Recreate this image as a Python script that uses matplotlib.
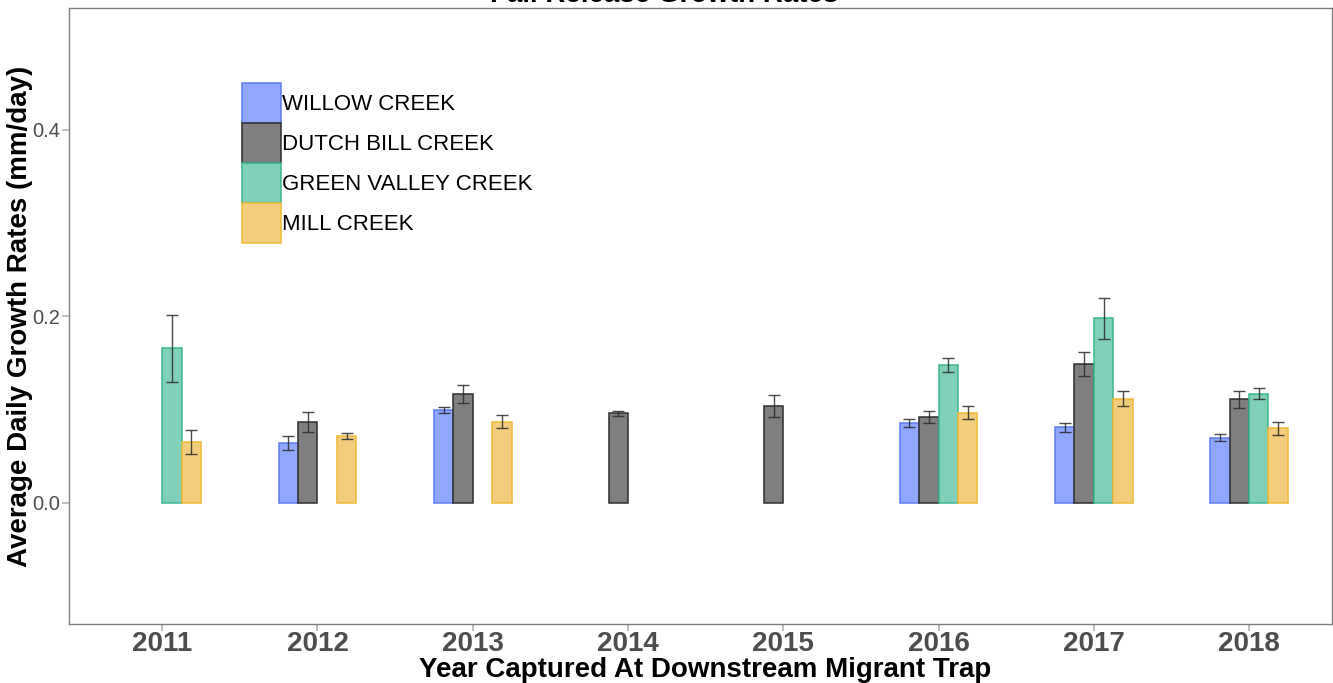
import matplotlib
matplotlib.use("Agg")
import matplotlib.pyplot as plt
import numpy as np

plt.rcParams['font.family'] = ['Liberation Sans', 'DejaVu Sans']

years = ["2011", "2012", "2013", "2014", "2015", "2016", "2017", "2018"]
creeks = ["WILLOW CREEK", "DUTCH BILL CREEK", "GREEN VALLEY CREEK", "MILL CREEK"]

# mean growth rates (mm/day); NaN = no data
willow = [np.nan, 0.064, 0.100, np.nan, np.nan, 0.086, 0.081, 0.070]
dutch  = [np.nan, 0.087, 0.117, 0.096, 0.104, 0.092, 0.149, 0.111]
green  = [0.166, np.nan, np.nan, np.nan, np.nan, 0.148, 0.198, 0.117]
mill   = [0.065, 0.072, 0.087, np.nan, np.nan, 0.097, 0.112, 0.080]

# standard errors
willow_se = [np.nan, 0.0077, 0.003, np.nan, np.nan, 0.0043, 0.0045, 0.004]
dutch_se  = [np.nan, 0.0104, 0.010, 0.003, 0.012, 0.0065, 0.013, 0.009]
green_se  = [0.036, np.nan, np.nan, np.nan, np.nan, 0.0075, 0.022, 0.006]
mill_se   = [0.013, 0.003, 0.007, np.nan, np.nan, 0.0068, 0.0083, 0.007]

series = [willow, dutch, green, mill]
errors = [willow_se, dutch_se, green_se, mill_se]
fills = ["#8FA8FE", "#7F7F7F", "#80CFB8", "#F2CE7C"]
edges = ["#5B7CF0", "#2E2E2E", "#3DB890", "#F0B935"]

fig = plt.figure(figsize=(13.33, 6.83), dpi=100)
W, H = 1333, 683
ax = fig.add_axes([69 / W, 1 - 624 / H, (1332 - 69) / W, (624 - 8) / H])

x = np.arange(1, len(years) + 1)
bw = 0.125
offsets = [-0.1875, -0.0625, 0.0625, 0.1875]
handles = []
for vals, se, fc, ec, off, lab in zip(series, errors, fills, edges, offsets, creeks):
    v = np.array(vals, dtype=float)
    s = np.array(se, dtype=float)
    m = ~np.isnan(v)
    b = ax.bar(x[m] + off, v[m], width=bw, color=fc, edgecolor=ec, linewidth=1.1, label=lab, zorder=2)
    handles.append(b)
    ax.errorbar(x[m] + off, v[m], yerr=s[m], fmt='none', ecolor='#2a2a2a', elinewidth=1.0,
                capsize=4, capthick=1.0, alpha=0.85, zorder=3)

ax.set_xlim(0.4, 8.534)
ax.set_ylim(-0.1298, 0.5308)
ax.set_xticks(x)
ax.set_xticklabels(years, fontsize=20, fontweight='bold', color='#4D4D4D')
ax.set_yticks([0.0, 0.2, 0.4])
ax.set_yticklabels(["0.0", "0.2", "0.4"], fontsize=14.5, color='#4D4D4D')
ax.tick_params(axis='both', color='#B3B3B3', length=5, width=1.2)
ax.tick_params(axis='x', pad=0)
ax.tick_params(axis='y', pad=1.5)
for sp in ax.spines.values():
    sp.set_color('#808080')
    sp.set_linewidth(1.0)

fig.text(705 / W, 1 - 670 / H, "Year Captured At Downstream Migrant Trap", fontsize=20,
         fontweight='bold', color='black', ha='center', va='center')
fig.text(20 / W, 1 - 316 / H, "Average Daily Growth Rates (mm/day)", fontsize=20,
         fontweight='bold', color='black', ha='center', va='center', rotation=90)

fig.text(664 / W, 1 - 1.5 / H, "Fall Release Growth Rates", fontsize=20, fontweight='bold',
         ha='center', va='baseline')

leg = ax.legend(handles=handles, labels=creeks, loc='upper left',
                bbox_to_anchor=(242 / W, 1 - 83 / H), bbox_transform=fig.transFigure,
                frameon=False, fontsize=16, handlelength=1.75, handleheight=2.39,
                labelspacing=0.0, handletextpad=0.05, borderpad=0, borderaxespad=0)

fig.savefig("out.png", dpi=100)
